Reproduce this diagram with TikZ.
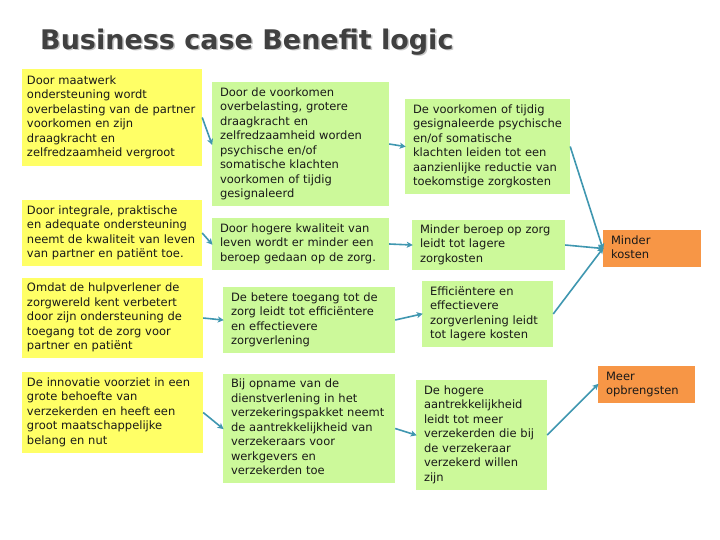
\documentclass[tikz,border=0pt]{standalone}
\usepackage{fontspec}
\setmainfont{DejaVu Sans}
\usetikzlibrary{arrows.meta}
\definecolor{ylw}{HTML}{FFFF66}
\definecolor{grn}{HTML}{CCF99A}
\definecolor{org}{HTML}{F79646}
\definecolor{arr}{HTML}{3F97B0}
\definecolor{ttl}{HTML}{404040}
\newcommand{\lns}[1]{\begin{tabular}{@{}l@{}}#1\end{tabular}}
\begin{document}
\begin{tikzpicture}[x=1pt,y=-1pt,
  box/.style={draw=none, inner ysep=2pt, font=\fontsize{11.5}{14.5}\selectfont, text=black!90},
  ybox/.style n args={3}{box, fill=ylw, inner xsep=5pt, text width=#1pt, minimum height=#2pt},
  gbox/.style n args={3}{box, fill=grn, inner xsep=8pt, text width=#1pt, minimum height=#2pt},
  obox/.style n args={3}{box, fill=org, inner xsep=8pt, text width=#1pt, minimum height=#2pt},
  ttlstyle/.style={anchor=base west, inner sep=0, font=\bfseries\fontsize{27}{32}\selectfont},
  conn/.style={draw=arr, line width=1.6pt, -{Stealth[length=6pt,width=6pt,inset=1.5pt]}, shorten >=-1pt}
]
\useasboundingbox (0,0) rectangle (720,540);
\fill[white] (0,0) rectangle (720,540);

\node[ttlstyle, text=black!22] (titleshadow) at (41.5,51) {Business case Benefit logic};
\node[ttlstyle, text=ttl] (title) at (40,49.5) {Business case Benefit logic};

% column 1
\node[ybox={170}{97}{}] (y1) at (112,117.5) {\lns{Door maatwerk\\ondersteuning wordt\\overbelasting van de partner\\voorkomen en zijn\\draagkracht en\\zelfredzaamheid vergroot}};
\node[ybox={170}{66}{}] (y2) at (112,233) {\lns{Door integrale, praktische\\en adequate ondersteuning\\neemt de kwaliteit van leven\\van partner en patiënt toe.}};
\node[ybox={171}{80}{}] (y3) at (112.5,318) {\lns{Omdat de hulpverlener de\\zorgwereld kent verbetert\\door zijn ondersteuning de\\toegang tot de zorg voor\\partner en patiënt}};
\node[ybox={171}{81}{}] (y4) at (112.5,412.5) {\lns{De innovatie voorziet in een\\grote behoefte van\\verzekerden en heeft een\\groot maatschappelijke\\belang en nut}};

% column 2
\node[gbox={161}{124}{}] (g1) at (300.5,144) {\lns{Door de voorkomen\\overbelasting, grotere\\draagkracht en\\zelfredzaamheid worden\\psychische en/of\\somatische klachten\\voorkomen of tijdig\\gesignaleerd}};
\node[gbox={161}{52}{}] (g2) at (300.5,244) {\lns{Door hogere kwaliteit van\\leven wordt er minder een\\beroep gedaan op de zorg.}};
\node[gbox={156}{66}{}] (g3) at (309,320) {\lns{De betere toegang tot de\\zorg leidt tot efficiëntere\\en effectievere\\zorgverlening}};
\node[gbox={156}{109}{}] (g4) at (309,428.5) {\lns{Bij opname van de\\dienstverlening in het\\verzekeringspakket neemt\\de aantrekkelijkheid van\\verzekeraars voor\\werkgevers en\\verzekerden toe}};

% column 3
\node[gbox={149}{95}{}] (g5) at (487.5,146.5) {\lns{De voorkomen of tijdig\\gesignaleerde psychische\\en/of somatische\\klachten leiden tot een\\aanzienlijke reductie van\\toekomstige zorgkosten}};
\node[gbox={137}{50}{}] (g6) at (488.5,245) {\lns{Minder beroep op zorg\\leidt tot lagere\\zorgkosten}};
\node[gbox={115}{66}{}] (g7) at (487.5,314) {\lns{Efficiëntere en\\effectievere\\zorgverlening leidt\\tot lagere kosten}};
\node[gbox={115}{110}{}] (g8) at (481.5,435) {\lns{De hogere\\aantrekkelijkheid\\leidt tot meer\\verzekerden die bij\\de verzekeraar\\verzekerd willen\\zijn}};

% outcomes
\node[obox={82}{37}{}] (o1) at (652,248.5) {\lns{Minder\\kosten}};
\node[obox={81}{37}{}] (o2) at (646.5,384.5) {\lns{Meer\\opbrengsten}};

\foreach \a/\b in {y1/g1,y2/g2,y3/g3,y4/g4,g1/g5,g2/g6,g3/g7,g4/g8,g5/o1,g6/o1,g7/o1,g8/o2}
  \draw[conn] (\a.east) -- (\b.west);
\end{tikzpicture}
\end{document}
